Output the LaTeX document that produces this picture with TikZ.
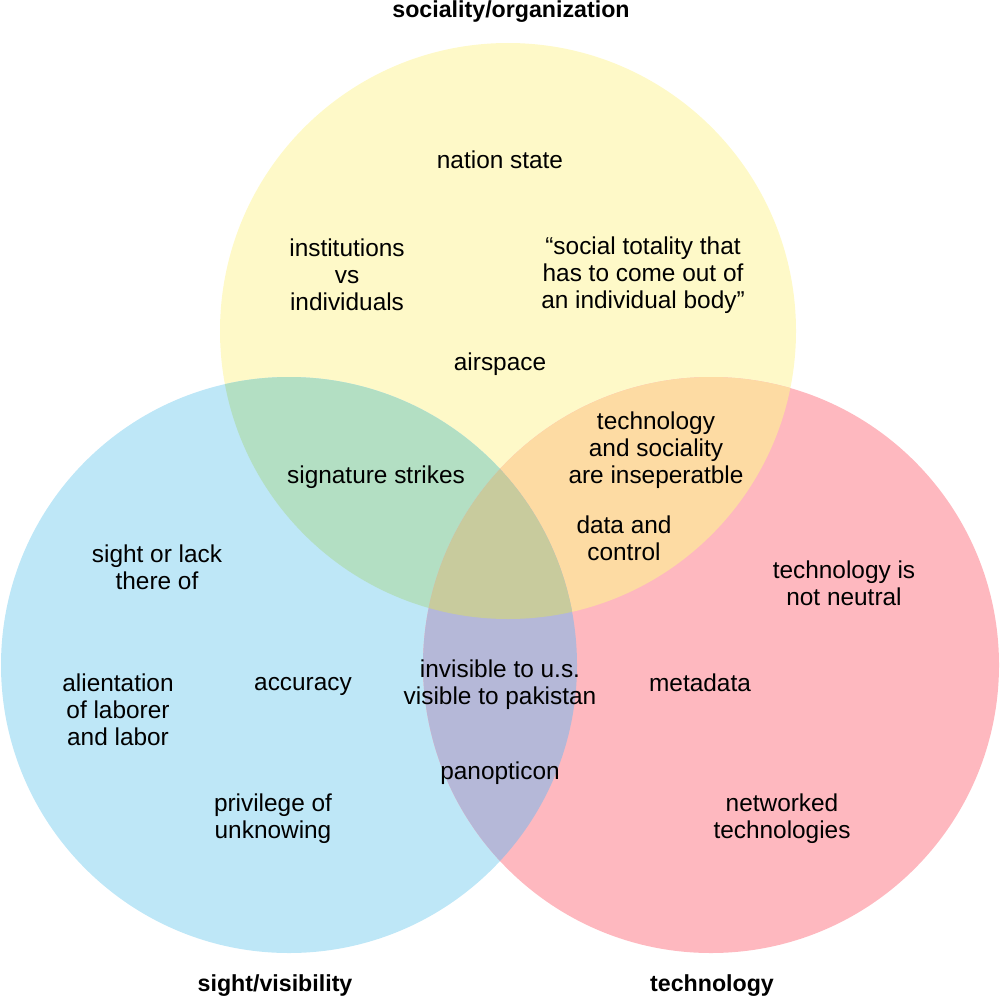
\documentclass[tikz,border=0pt]{standalone}
\usepackage{fontspec}
\setmainfont{Liberation Sans}
\definecolor{socyellow}{HTML}{FEF9C8}
\definecolor{sightblue}{HTML}{BEE7F7}
\definecolor{techpink}{HTML}{FEB8BF}
\definecolor{ysgreen}{HTML}{B3DFC3}
\definecolor{ytorange}{HTML}{FDDBA3}
\definecolor{stpurple}{HTML}{B5B8D8}
\definecolor{allolive}{HTML}{C8CB9D}
\newcommand\vennr{288}

\begin{document}
\begin{tikzpicture}[x=0.5pt, y=-0.5pt,
  lbl/.style={align=center, inner sep=0pt, font=\fontsize{12.2}{13.5}\selectfont},
  ttl/.style={inner sep=0pt, font=\fontsize{11.6}{13}\selectfont\bfseries}]
  \useasboundingbox (0,0) rectangle (1000,995);
  \coordinate (S) at (508,331);
  \coordinate (V) at (289,665);
  \coordinate (T) at (711,665);
  % the three sets
  \fill[socyellow] (S) circle[radius=\vennr];
  \fill[sightblue] (V) circle[radius=\vennr];
  \fill[techpink] (T) circle[radius=\vennr];
  % overlaps
  \begin{scope}
    \clip (S) circle[radius=\vennr];
    \fill[ysgreen] (V) circle[radius=\vennr];
    \fill[ytorange] (T) circle[radius=\vennr];
  \end{scope}
  \begin{scope}
    \clip (V) circle[radius=\vennr];
    \fill[stpurple] (T) circle[radius=\vennr];
    \clip (T) circle[radius=\vennr];
    \fill[allolive] (S) circle[radius=\vennr];
  \end{scope}
  % titles
  \node[ttl] (soc) at (511,12) {sociality/organization};
  \node[ttl] (sight) at (275,986) {sight/visibility};
  \node[ttl] (tech) at (712,986) {technology};
  % labels
  \node[lbl] (nation) at (500,160) {nation state};
  \node[lbl] (inst) at (347,275) {institutions\\ vs\\ individuals};
  \node[lbl] (quote) at (643,275) {“social totality that\\ has to come out of\\ an individual body”};
  \node[lbl] (air) at (500,364) {airspace};
  \node[lbl] (insep) at (656,450) {technology\\ and sociality\\ are inseperatble};
  \node[lbl] (sig) at (376,477) {signature strikes};
  \node[lbl] (data) at (624,538) {data and\\ control};
  \node[lbl] (lack) at (157,567) {sight or lack\\ there of};
  \node[lbl] (neutral) at (844,583) {technology is\\ not neutral};
  \node[lbl] (alien) at (118,710) {alientation\\ of laborer\\ and labor};
  \node[lbl] (acc) at (303,686) {accuracy};
  \node[lbl] (invis) at (500,685) {invisible to u.s.\\ visible to pakistan};
  \node[lbl] (meta) at (700,683) {metadata};
  \node[lbl] (pan) at (500,773) {panopticon};
  \node[lbl] (priv) at (273,819) {privilege of\\ unknowing};
  \node[lbl] (net) at (782,819) {networked\\ technologies};
\end{tikzpicture}
\end{document}
